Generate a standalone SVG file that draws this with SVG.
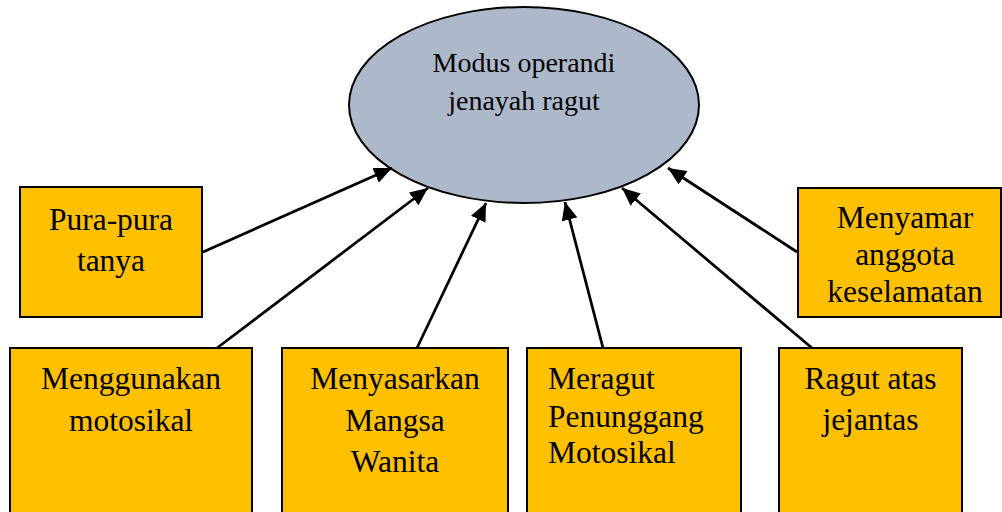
<svg xmlns="http://www.w3.org/2000/svg" width="1002" height="512" viewBox="0 0 1002 512">
<style>
.box{fill:#FFC000;stroke:#000;stroke-width:2}
.ell{fill:#ADB9CA;stroke:#000;stroke-width:2}
.t{font-family:"Liberation Serif","Times New Roman",serif;font-size:31.5px;fill:#000}
.c{text-anchor:middle}
.et{font-family:"Liberation Serif","Times New Roman",serif;font-size:28px;fill:#000;text-anchor:middle}
.ln{stroke:#000;stroke-width:2.75;fill:none;marker-end:url(#ah)}
</style>
<defs>
<marker id="ah" markerUnits="userSpaceOnUse" markerWidth="19" markerHeight="16" refX="18" refY="8" orient="auto">
<path d="M0,0 L18,8 L0,16 Z" fill="#000"/>
</marker>
</defs>
<rect width="1002" height="512" fill="#fff"/>
<g id="center">
<ellipse class="ell" cx="524" cy="105" rx="175" ry="98"/>
<text class="et" x="524" y="72">Modus operandi</text>
<text class="et" x="524" y="110">jenayah ragut</text>
</g>
<g id="connectors">
<line class="ln" x1="203" y1="252" x2="392" y2="168"/>
<line class="ln" x1="217" y1="348" x2="428" y2="188"/>
<line class="ln" x1="417" y1="348" x2="486" y2="203"/>
<line class="ln" x1="603" y1="348" x2="565" y2="202"/>
<line class="ln" x1="812" y1="348" x2="622" y2="188"/>
<line class="ln" x1="797" y1="252" x2="668" y2="168"/>
</g>
<g id="pura">
<rect class="box" x="20" y="187" width="182" height="130"/>
<text class="t c" x="111" y="230">Pura-pura</text>
<text class="t c" x="111" y="271">tanya</text>
</g>
<g id="menyamar">
<rect class="box" x="798" y="188" width="203" height="129"/>
<text class="t c" x="905" y="228">Menyamar</text>
<text class="t c" x="905" y="265">anggota</text>
<text class="t c" x="905" y="302">keselamatan</text>
</g>
<g id="menggunakan">
<rect class="box" x="10" y="348" width="242" height="200"/>
<text class="t c" x="131" y="389">Menggunakan</text>
<text class="t c" x="131" y="431">motosikal</text>
</g>
<g id="menyasarkan">
<rect class="box" x="282" y="348" width="226" height="200"/>
<text class="t c" x="395" y="389">Menyasarkan</text>
<text class="t c" x="395" y="431">Mangsa</text>
<text class="t c" x="395" y="472">Wanita</text>
</g>
<g id="meragut">
<rect class="box" x="527" y="348" width="214" height="200"/>
<text class="t" x="548" y="389">Meragut</text>
<text class="t" x="548" y="427">Penunggang</text>
<text class="t" x="548" y="463">Motosikal</text>
</g>
<g id="ragut">
<rect class="box" x="779" y="348" width="183" height="200"/>
<text class="t c" x="870.5" y="389">Ragut atas</text>
<text class="t c" x="870.5" y="430">jejantas</text>
</g>
</svg>
